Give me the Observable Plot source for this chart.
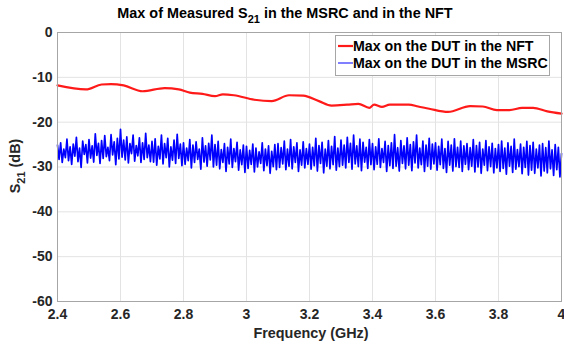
<!DOCTYPE html>
<html><head><meta charset="utf-8">
<script src="https://cdn.jsdelivr.net/npm/d3@7"></script>
<script src="https://cdn.jsdelivr.net/npm/@observablehq/plot@0.6"></script>
<style>
body{margin:0;background:#fff;}
#chart{width:564px;height:347px;}
</style>
</head><body><div id="chart"></div>
<script>
// ---- data ----
const titleText = ["Max of Measured S", "21", " in the MSRC and in the NFT"];
const xLabel = "Frequency (GHz)";
const yLabel = ["S", "21", " (dB)"];
const seriesNames = ["Max on the DUT in the NFT", "Max on the DUT in the MSRC"];
const xTicks = [2.4, 2.6, 2.8, 3.0, 3.2, 3.4, 3.6, 3.8, 4.0];
const yTicks = [0, -10, -20, -30, -40, -50, -60];

const nftFreq = [2.40,2.49,2.54,2.57,2.61,2.67,2.74,2.785,2.82,2.86,2.90,2.925,2.96,3.025,3.08,3.135,3.18,3.23,3.27,3.32,3.355,3.39,3.405,3.43,3.455,3.515,3.545,3.58,3.64,3.71,3.75,3.795,3.835,3.875,3.91,3.955,4.0];
const nftS21 = [-11.8,-12.7,-11.6,-11.5,-11.8,-13.1,-12.4,-12.7,-13.4,-13.7,-14.2,-13.8,-14.0,-15.0,-15.3,-14.0,-14.1,-15.3,-16.3,-16.1,-15.9,-16.8,-16.1,-16.6,-16.1,-16.1,-16.5,-17.0,-17.7,-16.4,-16.5,-17.3,-17.3,-16.8,-16.8,-17.6,-18.1];

const msrcStart = 2.4, msrcStep = 0.005;
const msrcS21 = [
-25.1,-28.3,-24.6,-29.0,-26.0,-27.9,-23.8,-28.6,-25.5,-29.4,-24.9,-27.6,-23.4,-28.8,-25.8,-30.1,-24.2,-27.2,-25.0,-29.1,
-23.9,-28.0,-25.3,-28.9,-22.6,-27.4,-24.7,-29.2,-24.1,-28.1,-23.0,-27.7,-25.6,-28.6,-22.8,-27.3,-24.4,-29.5,-23.6,-28.2,
-21.6,-27.8,-24.0,-28.4,-23.3,-29.1,-24.8,-27.0,-22.9,-28.7,-25.2,-27.5,-23.5,-29.0,-24.6,-28.3,-22.5,-27.9,-25.1,-28.8,
-24.3,-28.9,-23.7,-29.6,-25.4,-28.2,-22.9,-29.3,-24.8,-27.9,-23.6,-30.0,-25.5,-28.5,-24.0,-29.2,-22.7,-28.1,-24.9,-29.7,
-24.6,-29.4,-25.8,-28.6,-23.9,-30.2,-25.1,-29.0,-24.4,-28.3,-26.0,-30.5,-23.5,-28.9,-25.3,-29.8,-24.7,-28.4,-22.9,-30.0,
-25.0,-29.6,-24.3,-30.4,-26.1,-29.0,-24.8,-31.0,-25.6,-29.3,-23.8,-30.1,-25.9,-28.8,-24.5,-30.7,-26.2,-29.5,-25.1,-31.2,
-25.4,-30.3,-26.3,-29.4,-24.9,-31.1,-25.8,-30.0,-26.6,-29.2,-24.6,-30.8,-26.0,-29.7,-25.3,-31.4,-26.5,-29.9,-25.0,-30.6,
-24.8,-30.1,-25.7,-29.3,-24.2,-30.6,-26.0,-29.8,-23.9,-30.4,-25.5,-29.0,-24.6,-31.0,-26.2,-29.6,-24.4,-30.2,-25.9,-29.4,
-24.9,-30.5,-25.6,-29.7,-23.6,-30.9,-25.2,-29.2,-24.5,-31.3,-26.0,-29.8,-24.1,-30.4,-25.4,-29.5,-23.2,-30.7,-25.8,-29.9,
-24.0,-29.6,-25.1,-30.2,-23.4,-29.0,-24.7,-30.5,-22.9,-29.3,-25.3,-29.9,-23.8,-30.8,-24.5,-28.9,-25.6,-30.3,-23.9,-29.5,
-24.8,-30.6,-25.5,-29.4,-23.7,-30.1,-25.9,-29.0,-24.3,-31.0,-25.2,-29.7,-24.6,-30.3,-22.8,-29.8,-25.7,-30.9,-24.1,-29.2,
-25.3,-30.4,-23.5,-29.6,-25.0,-30.8,-24.4,-29.1,-22.9,-30.2,-25.8,-29.5,-24.2,-31.0,-25.1,-29.8,-23.6,-30.5,-24.9,-29.3,
-24.6,-30.7,-25.4,-29.5,-23.8,-30.3,-25.9,-31.2,-24.3,-29.6,-25.1,-30.9,-23.7,-29.9,-25.6,-30.1,-24.2,-31.0,-25.3,-29.4,
-24.8,-30.6,-25.7,-29.8,-23.9,-31.1,-25.2,-30.0,-24.5,-31.4,-26.0,-29.6,-24.1,-30.8,-25.5,-29.9,-24.7,-31.3,-25.9,-30.2,
-25.0,-31.0,-24.2,-30.3,-25.8,-31.6,-24.6,-29.8,-25.4,-31.2,-23.8,-30.5,-26.1,-29.9,-24.9,-31.5,-25.6,-30.1,-24.3,-31.8,
-25.2,-30.7,-24.5,-31.4,-26.0,-30.2,-25.1,-32.0,-24.8,-30.9,-25.7,-31.3,-24.2,-30.4,-26.2,-31.9,-25.0,-30.6,-25.6,-32.2,
-27.0];

// ---- build ----
const FONT = "'Liberation Sans', Arial, Helvetica, sans-serif";
const nft = nftFreq.map((f, i) => ({f, v: nftS21[i]}));
const msrc = msrcS21.map((v, i) => ({f: msrcStart + i * msrcStep, v}));

const chart = Plot.plot({
  width: 564, height: 347,
  marginTop: 32, marginBottom: 46, marginLeft: 57, marginRight: 3,
  style: {fontFamily: FONT, background: "#fff"},
  x: {domain: [2.4, 4.0]},
  y: {domain: [-60, 0]},
  marks: [
    Plot.gridX(xTicks, {stroke: "#e3e3e3", strokeOpacity: 1}),
    Plot.gridY(yTicks, {stroke: "#e3e3e3", strokeOpacity: 1}),
    Plot.line(msrc, {x: "f", y: "v", stroke: "#0000ff", strokeWidth: 1.7}),
    Plot.line(nft, {x: "f", y: "v", stroke: "#ff1a1a", strokeWidth: 2.2, curve: "monotone-x"}),
    Plot.frame({stroke: "#a6a6a6"}),
    Plot.axisX(xTicks, {tickSize: 0, tickPadding: 8, tickFormat: d => String(+d.toFixed(1)), fontSize: 14, fontWeight: "bold", fill: "#262626", label: null}),
    Plot.axisY(yTicks, {tickSize: 0, tickPadding: 5, tickFormat: d => String(d), fontSize: 14, fontWeight: "bold", fill: "#262626", label: null})
  ]
});
document.getElementById("chart").appendChild(chart);

const svg = d3.select(chart);
// title
const t = svg.append("text").attr("x", 285).attr("y", 18).attr("text-anchor", "middle")
  .attr("font-family", FONT).attr("font-size", 14.4).attr("font-weight", "bold").attr("fill", "#000");
t.append("tspan").text(titleText[0]);
t.append("tspan").attr("dy", 5).attr("font-size", 11).text(titleText[1]);
t.append("tspan").attr("dy", -5).text(titleText[2]);
// x label
svg.append("text").attr("x", 311).attr("y", 338).attr("text-anchor", "middle")
  .attr("font-family", FONT).attr("font-size", 14.4).attr("font-weight", "bold").attr("fill", "#262626").text(xLabel);
// y label
const yl = svg.append("text").attr("transform", "translate(20,166) rotate(-90)").attr("text-anchor", "middle")
  .attr("font-family", FONT).attr("font-size", 14.4).attr("font-weight", "bold").attr("fill", "#262626");
yl.append("tspan").text(yLabel[0]);
yl.append("tspan").attr("dy", 5).attr("font-size", 11).text(yLabel[1]);
yl.append("tspan").attr("dy", -5).text(yLabel[2]);
// legend
const lg = svg.append("g").attr("text-anchor", "start");
lg.append("rect").attr("x", 335.5).attr("y", 35.5).attr("width", 214).attr("height", 40)
  .attr("fill", "#fff").attr("stroke", "#a6a6a6");
const legColors = ["#ff1a1a", "#0000ff"], legW = [2.2, 1];
seriesNames.forEach((name, i) => {
  const y = 46 + i * 17;
  lg.append("line").attr("x1", 338).attr("x2", 353).attr("y1", y).attr("y2", y)
    .attr("stroke", legColors[i]).attr("stroke-width", legW[i]);
  lg.append("text").attr("x", 353).attr("y", y + 5).attr("text-anchor", "start").attr("font-family", FONT)
    .attr("font-size", 14.2).attr("font-weight", "bold").attr("fill", "#000").text(name);
});
</script>
</body></html>
